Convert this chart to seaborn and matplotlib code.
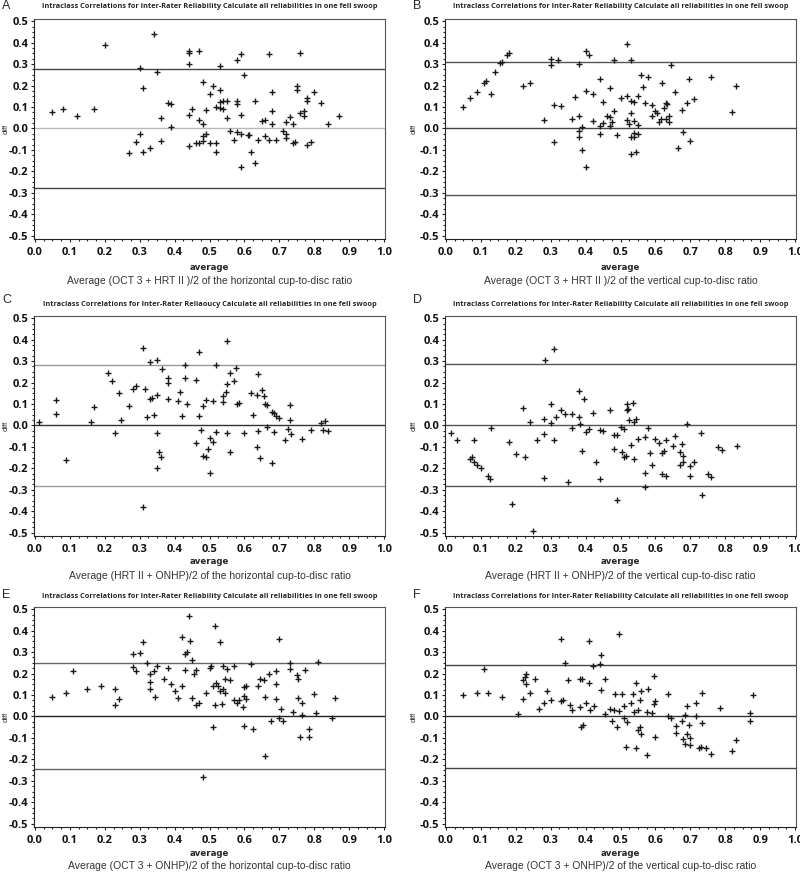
import numpy as np
import pandas as pd
import matplotlib
matplotlib.use('Agg')
import matplotlib.pyplot as plt
from matplotlib.ticker import MultipleLocator, AutoMinorLocator
import seaborn as sns

sns.set_style('white')
plt.rcParams['font.family'] = ['Open Sans', 'DejaVu Sans']

# ---- panel A : OCT 3 + HRT II, horizontal ----
a_avg = [0.05, 0.08, 0.12, 0.17, 0.20, 0.34, 0.30, 0.35, 0.31, 0.38, 0.39, 0.36, 0.39, 0.30, 0.29,
         0.27, 0.31, 0.33, 0.36, 0.44, 0.44, 0.44, 0.47, 0.53, 0.58, 0.59, 0.67, 0.76, 0.60, 0.48,
         0.51, 0.53, 0.50, 0.53, 0.54, 0.55, 0.58, 0.63, 0.44, 0.45, 0.49, 0.52, 0.53, 0.54, 0.55,
         0.58, 0.59, 0.47, 0.48, 0.68, 0.65, 0.66, 0.68, 0.68, 0.73, 0.74, 0.75, 0.75, 0.78, 0.78,
         0.80, 0.82, 0.76, 0.77, 0.77, 0.72, 0.84, 0.87, 0.44, 0.46, 0.47, 0.48, 0.48, 0.49, 0.50,
         0.52, 0.52, 0.56, 0.57, 0.58, 0.59, 0.61, 0.612, 0.59, 0.62, 0.63, 0.64, 0.66, 0.67, 0.69,
         0.71, 0.72, 0.72, 0.74, 0.745, 0.78, 0.79]
a_diff = [0.075, 0.09, 0.06, 0.09, 0.39, 0.44, 0.28, 0.265, 0.19, 0.12, 0.115, 0.05, 0.005, -0.025, -0.065,
          -0.115, -0.11, -0.09, -0.06, 0.36, 0.35, 0.30, 0.36, 0.29, 0.32, 0.345, 0.345, 0.35, 0.25, 0.215,
          0.20, 0.18, 0.16, 0.125, 0.13, 0.13, 0.13, 0.13, 0.065, 0.09, 0.085, 0.10, 0.095, 0.09, 0.05,
          0.115, 0.065, 0.04, 0.02, 0.17, 0.035, 0.04, 0.02, 0.08, 0.055, 0.02, 0.20, 0.18, 0.14, 0.13,
          0.17, 0.12, 0.07, 0.06, 0.08, 0.03, 0.02, 0.06, -0.08, -0.07, -0.07, -0.035, -0.06, -0.025, -0.07,
          -0.11, -0.07, -0.01, -0.055, -0.015, -0.025, -0.03, -0.03, -0.18, -0.11, -0.16, -0.055, -0.035, -0.055, -0.055,
          -0.01, -0.025, -0.045, -0.07, -0.065, -0.075, -0.065]

# ---- panel B : OCT 3 + HRT II, vertical ----
b_avg = [0.05, 0.07, 0.09, 0.11, 0.115, 0.13, 0.14, 0.155, 0.16, 0.175, 0.18, 0.22, 0.24, 0.28, 0.30,
         0.30, 0.32, 0.31, 0.33, 0.31, 0.36, 0.37, 0.38, 0.40, 0.41, 0.40, 0.38, 0.38, 0.39, 0.38,
         0.39, 0.40, 0.42, 0.42, 0.44, 0.45, 0.44, 0.45, 0.44, 0.47, 0.46, 0.47, 0.47, 0.475, 0.48,
         0.48, 0.49, 0.50, 0.52, 0.52, 0.53, 0.52, 0.53, 0.54, 0.525, 0.53, 0.53, 0.54, 0.54, 0.55,
         0.545, 0.53, 0.55, 0.54, 0.55, 0.56, 0.565, 0.57, 0.58, 0.59, 0.60, 0.59, 0.605, 0.61, 0.615,
         0.62, 0.625, 0.63, 0.632, 0.63, 0.64, 0.64, 0.645, 0.655, 0.675, 0.665, 0.68, 0.69, 0.695, 0.71,
         0.70, 0.76, 0.82, 0.83]
b_diff = [0.10, 0.14, 0.17, 0.21, 0.22, 0.16, 0.265, 0.305, 0.31, 0.34, 0.35, 0.20, 0.21, 0.04, 0.295,
          0.325, 0.32, 0.11, 0.105, -0.065, 0.045, 0.145, 0.30, 0.36, 0.34, 0.175, 0.06, -0.01, 0.005, -0.04,
          -0.10, -0.18, 0.16, 0.035, 0.23, 0.125, 0.01, 0.025, -0.025, 0.19, 0.06, 0.055, 0.01, 0.03, 0.08,
          0.32, -0.03, 0.14, 0.15, 0.395, 0.32, 0.04, 0.13, 0.125, 0.02, 0.07, -0.04, -0.04, -0.02, -0.025,
          -0.11, -0.12, 0.015, 0.035, 0.15, 0.25, 0.195, 0.12, 0.24, 0.11, 0.08, 0.06, 0.07, 0.03, 0.045,
          0.21, 0.095, 0.12, 0.115, 0.045, 0.06, 0.03, 0.295, 0.17, 0.085, -0.09, -0.015, 0.12, 0.23, 0.135,
          -0.06, 0.24, 0.075, 0.20]

# ---- panel C : HRT II + ONHP, horizontal ----
c_avg = [0.01, 0.06, 0.06, 0.09, 0.16, 0.17, 0.21, 0.22, 0.23, 0.24, 0.245, 0.27, 0.28, 0.29, 0.31,
         0.315, 0.32, 0.33, 0.33, 0.335, 0.34, 0.35, 0.35, 0.35, 0.355, 0.36, 0.35, 0.31, 0.365, 0.38,
         0.38, 0.38, 0.41, 0.415, 0.42, 0.43, 0.43, 0.435, 0.46, 0.46, 0.47, 0.48, 0.47, 0.475, 0.48,
         0.49, 0.49, 0.495, 0.50, 0.51, 0.51, 0.52, 0.52, 0.50, 0.54, 0.54, 0.55, 0.55, 0.547, 0.55,
         0.56, 0.56, 0.57, 0.575, 0.58, 0.585, 0.60, 0.62, 0.625, 0.635, 0.64, 0.64, 0.635, 0.645, 0.65,
         0.655, 0.66, 0.665, 0.665, 0.68, 0.685, 0.685, 0.68, 0.69, 0.70, 0.715, 0.725, 0.73, 0.73, 0.735,
         0.765, 0.79, 0.82, 0.83, 0.825, 0.84]
c_diff = [0.015, 0.12, 0.055, -0.16, 0.015, 0.085, 0.245, 0.205, -0.035, 0.15, 0.025, 0.09, 0.17, 0.185, 0.36,
          0.17, 0.04, 0.295, 0.125, 0.13, 0.05, 0.305, 0.14, -0.035, -0.125, -0.145, -0.20, -0.38, 0.265, 0.22,
          0.20, 0.125, 0.115, 0.155, 0.045, 0.28, 0.22, 0.10, 0.21, -0.08, 0.34, 0.09, 0.045, -0.02, -0.14,
          0.12, -0.145, -0.11, -0.06, 0.115, -0.075, -0.03, 0.28, -0.22, 0.135, 0.11, 0.395, 0.195, 0.155, -0.035,
          0.245, -0.125, 0.205, 0.27, 0.10, 0.105, -0.035, 0.15, 0.05, 0.14, 0.24, -0.025, -0.10, -0.15, 0.165,
          0.135, 0.10, 0.095, -0.005, 0.065, 0.06, -0.03, -0.175, 0.045, 0.035, -0.07, -0.015, 0.095, 0.025, -0.04,
          -0.065, -0.02, 0.01, 0.02, -0.02, -0.025]

# ---- panel D : HRT II + ONHP, vertical ----
d_avg = [0.015, 0.03, 0.07, 0.075, 0.08, 0.08, 0.09, 0.10, 0.12, 0.125, 0.13, 0.18, 0.19, 0.20, 0.22,
         0.225, 0.24, 0.25, 0.26, 0.28, 0.28, 0.28, 0.285, 0.30, 0.31, 0.30, 0.31, 0.315, 0.33, 0.34,
         0.35, 0.36, 0.36, 0.38, 0.38, 0.385, 0.39, 0.395, 0.40, 0.41, 0.42, 0.43, 0.44, 0.44, 0.45,
         0.47, 0.48, 0.48, 0.49, 0.49, 0.50, 0.505, 0.51, 0.51, 0.515, 0.52, 0.52, 0.522, 0.525, 0.53,
         0.535, 0.54, 0.54, 0.545, 0.55, 0.57, 0.57, 0.57, 0.58, 0.585, 0.59, 0.60, 0.61, 0.62, 0.625,
         0.62, 0.63, 0.63, 0.65, 0.655, 0.67, 0.67, 0.675, 0.68, 0.68, 0.69, 0.70, 0.70, 0.71, 0.73,
         0.735, 0.75, 0.76, 0.78, 0.79, 0.835]
d_diff = [-0.035, -0.07, -0.155, -0.145, -0.17, -0.07, -0.185, -0.20, -0.235, -0.25, -0.01, -0.075, -0.365, -0.135, 0.08,
          -0.145, 0.015, -0.49, -0.07, 0.03, -0.04, -0.245, 0.305, 0.10, 0.355, 0.01, -0.07, 0.04, 0.07, 0.055,
          -0.265, 0.055, -0.01, 0.16, 0.04, 0.005, -0.12, 0.125, -0.03, -0.015, 0.06, -0.17, -0.02, -0.25, -0.025,
          0.07, -0.045, -0.11, -0.045, -0.345, -0.005, -0.125, -0.145, -0.015, -0.14, 0.10, 0.07, 0.075, 0.025, -0.09,
          0.105, 0.015, -0.155, 0.03, -0.065, -0.055, -0.22, -0.285, -0.01, -0.13, -0.185, -0.065, -0.08, -0.13, -0.12,
          -0.225, -0.07, -0.235, -0.095, -0.05, -0.185, -0.125, -0.085, -0.14, -0.17, 0.005, -0.235, -0.19, -0.17, -0.035,
          -0.325, -0.225, -0.24, -0.10, -0.115, -0.095]

# ---- panel E : OCT 3 + ONHP, horizontal ----
e_avg = [0.05, 0.09, 0.11, 0.15, 0.19, 0.23, 0.23, 0.24, 0.28, 0.28, 0.29, 0.30, 0.31, 0.32, 0.33,
         0.33, 0.33, 0.34, 0.345, 0.35, 0.37, 0.38, 0.39, 0.40, 0.41, 0.42, 0.42, 0.43, 0.43, 0.435,
         0.44, 0.445, 0.45, 0.45, 0.455, 0.46, 0.46, 0.47, 0.49, 0.50, 0.505, 0.51, 0.51, 0.515, 0.515,
         0.52, 0.525, 0.53, 0.53, 0.54, 0.535, 0.54, 0.545, 0.545, 0.55, 0.56, 0.57, 0.57, 0.58, 0.585,
         0.595, 0.60, 0.60, 0.605, 0.605, 0.598, 0.62, 0.625, 0.64, 0.645, 0.655, 0.66, 0.66, 0.67, 0.675,
         0.69, 0.69, 0.69, 0.70, 0.70, 0.705, 0.71, 0.73, 0.73, 0.74, 0.75, 0.755, 0.755, 0.76, 0.765,
         0.765, 0.775, 0.785, 0.785, 0.80, 0.805, 0.81, 0.85, 0.86, 0.48]
e_diff = [0.09, 0.11, 0.21, 0.13, 0.14, 0.13, 0.055, 0.08, 0.29, 0.23, 0.21, 0.295, 0.345, 0.25, 0.20,
          0.16, 0.13, 0.21, 0.09, 0.235, 0.175, 0.225, 0.15, 0.12, 0.085, 0.14, 0.37, 0.215, 0.29, 0.30,
          0.47, 0.35, 0.085, 0.265, 0.20, 0.215, 0.055, 0.065, 0.11, 0.225, 0.235, 0.14, -0.05, 0.42, 0.055,
          0.155, 0.14, 0.12, 0.345, 0.13, 0.06, 0.235, 0.175, 0.11, 0.22, 0.17, 0.235, 0.075, 0.065, 0.075,
          0.045, 0.095, 0.135, 0.14, 0.08, -0.045, 0.245, -0.06, 0.14, 0.175, 0.17, 0.09, -0.185, 0.20, -0.02,
          0.21, 0.15, 0.08, 0.36, -0.005, 0.035, -0.02, 0.25, 0.22, 0.02, 0.195, 0.175, 0.085, -0.095, 0.065,
          0.005, 0.215, -0.06, -0.095, 0.105, 0.015, 0.255, -0.005, 0.085, -0.28]

# ---- panel F : OCT 3 + ONHP, vertical ----
f_avg = [0.05, 0.09, 0.11, 0.12, 0.16, 0.205, 0.22, 0.22, 0.225, 0.228, 0.23, 0.24, 0.255, 0.265, 0.28,
         0.29, 0.30, 0.33, 0.33, 0.335, 0.34, 0.35, 0.355, 0.36, 0.385, 0.39, 0.385, 0.388, 0.393, 0.40,
         0.41, 0.41, 0.412, 0.42, 0.425, 0.44, 0.445, 0.445, 0.455, 0.457, 0.47, 0.475, 0.48, 0.485, 0.49,
         0.495, 0.495, 0.505, 0.51, 0.51, 0.515, 0.52, 0.53, 0.535, 0.54, 0.545, 0.545, 0.55, 0.55, 0.555,
         0.555, 0.56, 0.56, 0.575, 0.575, 0.58, 0.59, 0.595, 0.595, 0.60, 0.60, 0.635, 0.635, 0.645, 0.66,
         0.66, 0.675, 0.68, 0.685, 0.685, 0.69, 0.69, 0.695, 0.70, 0.70, 0.715, 0.715, 0.725, 0.73, 0.735,
         0.735, 0.745, 0.76, 0.785, 0.82, 0.83, 0.87, 0.87, 0.88]
f_diff = [0.10, 0.11, 0.22, 0.11, 0.09, 0.01, 0.17, 0.08, 0.185, 0.15, 0.20, 0.11, 0.175, 0.035, 0.065,
          0.12, 0.075, 0.36, 0.07, 0.075, 0.25, 0.17, 0.055, 0.03, 0.175, 0.175, 0.045, -0.05, -0.04, 0.065,
          0.35, 0.155, 0.03, 0.235, 0.05, 0.245, 0.285, 0.125, 0.175, 0.01, 0.035, -0.02, 0.03, 0.105, -0.05,
          0.385, 0.025, 0.105, 0.05, -0.005, -0.14, -0.025, 0.065, 0.105, 0.02, 0.155, -0.145, 0.03, -0.065, 0.075,
          -0.05, 0.12, -0.08, 0.02, -0.18, 0.13, 0.015, 0.19, 0.06, 0.07, -0.095, 0.105, 0.0, -0.005, -0.045,
          -0.075, -0.02, -0.105, -0.13, 0.005, 0.05, -0.08, -0.04, -0.10, -0.135, 0.065, 0.0, -0.145, -0.14, 0.11,
          -0.03, -0.145, -0.175, 0.04, -0.16, -0.11, 0.015, -0.02, 0.10]

letters = ['A', 'B', 'C', 'D', 'E', 'F']
panels = [(a_avg, a_diff), (b_avg, b_diff), (c_avg, c_diff),
          (d_avg, d_diff), (e_avg, e_diff), (f_avg, f_diff)]
upper_loa = [0.275, 0.31, 0.283, 0.285, 0.25, 0.238]
lower_loa = [-0.278, -0.31, -0.28, -0.28, -0.245, -0.238]
captions = ['Average (OCT 3 + HRT II )/2 of the horizontal cup-to-disc ratio',
            'Average (OCT 3 + HRT II )/2 of the vertical cup-to-disc ratio',
            'Average (HRT II + ONHP)/2 of the horizontal cup-to-disc ratio',
            'Average (HRT II + ONHP)/2 of the vertical cup-to-disc ratio',
            'Average (OCT 3 + ONHP)/2 of the horizontal cup-to-disc ratio',
            'Average (OCT 3 + ONHP)/2 of the vertical cup-to-disc ratio']
titles = ['Intraclass Correlations for Inter-Rater Reliability Calculate all reliabilities in one fell swoop'] * 6
titles[2] = 'Intraclass Correlations for Inter-Rater Reliaoucy Calculate all reliabilities in one fell swoop'
zero_col = ['#b8b8b8', '#444444', '#333333', '#555555', '#222222', '#333333']
loa_col = ['#444444', '#555555', '#999999', '#555555', '#666666', '#444444']

W, H = 800, 873
fig = plt.figure(figsize=(W / 100, H / 100), dpi=100)

lefts = [34, 445]
diff_x = [6, 414]
tops = [19, 316, 607]
title_y = [7, 304, 596]
xlabel_y = [267, 561, 854]
caption_y = [281, 576, 866]
letter_y = [6, 300, 595]
aw, ah = 351, 220

for i, (avg, diff) in enumerate(panels):
    col, row = i % 2, i // 2
    left, top = lefts[col], tops[row]
    ax = fig.add_axes([left / W, 1 - (top + ah) / H, aw / W, ah / H])
    df = pd.DataFrame({'average': avg, 'diff': diff})
    ax.axhline(upper_loa[i], color=loa_col[i], lw=1.0, zorder=1)
    ax.axhline(lower_loa[i], color=loa_col[i], lw=1.0, zorder=1)
    ax.axhline(0.0, color=zero_col[i], lw=1.0, zorder=1)
    sns.scatterplot(data=df, x='average', y='diff', marker='+', s=24, color='#1a1a1a',
                    linewidth=1.0, ax=ax, zorder=3)
    ax.set_xlim(-0.003, 1.003)
    ax.set_ylim(-0.515, 0.51)
    ax.xaxis.set_major_locator(MultipleLocator(0.1))
    ax.yaxis.set_major_locator(MultipleLocator(0.1))
    ax.xaxis.set_minor_locator(AutoMinorLocator(4))
    ax.yaxis.set_minor_locator(AutoMinorLocator(4))
    ax.xaxis.set_major_formatter(plt.FuncFormatter(lambda v, p: f'{v:.1f}'))
    ax.yaxis.set_major_formatter(plt.FuncFormatter(lambda v, p: f'{v:.1f}'))
    ax.tick_params(which='both', direction='out', bottom=True, left=True, color='#222222', width=0.8)
    ax.tick_params(which='major', length=2.2, labelsize=8, labelcolor='#111111')
    ax.tick_params(which='minor', length=1.5)
    ax.tick_params(axis='x', which='major', pad=3.5)
    ax.tick_params(axis='y', which='major', pad=2)
    for lab in ax.get_xticklabels() + ax.get_yticklabels():
        lab.set_fontweight('bold')
    for sp in ax.spines.values():
        sp.set_color('#555555')
        sp.set_linewidth(0.8)
    ax.spines['left'].set_color('#222222')
    ax.spines['bottom'].set_color('#222222')
    ax.set_xlabel('')
    ax.set_ylabel('')
    cx = (left + aw / 2) / W
    cy = 1 - (top + ah / 2) / H
    fig.text(diff_x[col] / W, cy, 'diff', rotation=90, ha='center', va='center',
             fontsize=5.5, family='Liberation Sans')
    fig.text(cx, 1 - title_y[row] / H, titles[i], ha='center', va='center',
             fontsize=5.3, fontweight='bold')
    fig.text(cx, 1 - xlabel_y[row] / H, 'average', ha='center', va='center',
             fontsize=6.2, fontweight='bold', family='Liberation Sans Narrow')
    fig.text(cx, 1 - caption_y[row] / H, captions[i], ha='center', va='center',
             fontsize=7.5, family='Liberation Sans', color='#333333')
    fig.text((left - 32) / W, 1 - letter_y[row] / H, letters[i],
             ha='left', va='center', fontsize=9, family='Liberation Sans')

fig.savefig('out.png', dpi=100)
